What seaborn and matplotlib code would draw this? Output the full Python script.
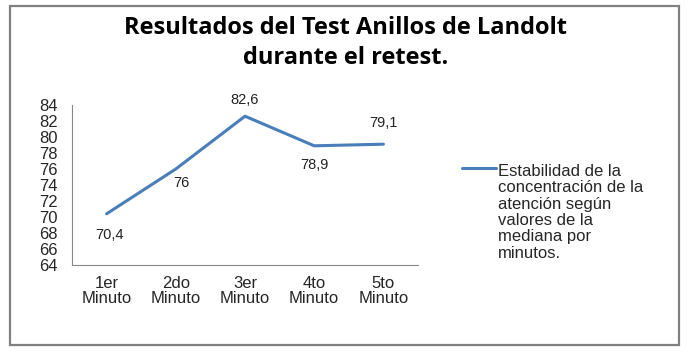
import matplotlib
matplotlib.use("Agg")
import numpy as np
import matplotlib.pyplot as plt
import seaborn as sns
import pandas as pd
from matplotlib.patches import Rectangle
from matplotlib.legend_handler import HandlerLine2D

categories = ["1er\nMinuto", "2do\nMinuto", "3er\nMinuto", "4to\nMinuto", "5to\nMinuto"]
values = [70.4, 76.0, 82.6, 78.9, 79.1]
value_labels = ["70,4", "76", "82,6", "78,9", "79,1"]
series_name = ("Estabilidad de la\nconcentración de la\natención según\n"
               "valores de la\nmediana por\nminutos.")
yticks = list(range(64, 85, 2))

sns.set_style("white")
plt.rcParams["font.family"] = ["Liberation Sans", "DejaVu Sans"]


class TopLineHandler(HandlerLine2D):
    # put the legend line next to the first text line instead of the middle
    def __init__(self, shift, **kw):
        super().__init__(**kw)
        self.shift = shift

    def create_artists(self, *args, **kwargs):
        artists = super().create_artists(*args, **kwargs)
        for a in artists:
            a.set_ydata(np.asarray(a.get_ydata()) + self.shift)
        return artists


df = pd.DataFrame({"x": range(len(categories)), "y": values})

fig = plt.figure(figsize=(6.92, 3.54), dpi=100, facecolor="white")
ax = fig.add_axes([72 / 692, 1 - 265 / 354, (418 - 72) / 692, (265 - 105) / 354])

color = "#4a7ebb"
sns.lineplot(data=df, x="x", y="y", ax=ax, color=color, linewidth=2.2, label=series_name)

# data labels: below or above the point
offsets = [(2, -15), (4, -10), (0, 12), (0, -14), (0, 15)]
for xi, yi, lab, off in zip(df["x"], df["y"], value_labels, offsets):
    ax.annotate(lab, (xi, yi), xytext=off, textcoords="offset points",
                ha="center", va="center", fontsize=10.5, color="#222222")

ax.set_xlim(-0.5, len(categories) - 0.5)
ax.set_ylim(64, 84)
ax.set_yticks(yticks)
ax.set_yticklabels([str(t) for t in yticks], fontsize=12)
ax.set_xticks(range(len(categories)))
ax.set_xticklabels(categories, fontsize=12, linespacing=1.0)
ax.set_xlabel("")
ax.set_ylabel("")

# category boundary ticks on x-axis
ax.set_xticks([i - 0.5 for i in range(len(categories) + 1)], minor=True)
ax.tick_params(axis="x", which="major", length=0, pad=8)
ax.tick_params(axis="x", which="minor", length=4, color="#888888", direction="out")
ax.tick_params(axis="y", length=4, color="#888888", direction="out", pad=6)

for s in ["top", "right"]:
    ax.spines[s].set_visible(False)
for s in ["left", "bottom"]:
    ax.spines[s].set_color("#888888")
    ax.spines[s].set_linewidth(0.8)

handle = ax.get_lines()[0]
leg = ax.legend(handles=[handle], labels=[series_name], loc="upper left",
                bbox_to_anchor=((455 - 72) / (418 - 72), (105 - 157) / 160 + 1),
                frameon=False, fontsize=12, handlelength=2.05, handletextpad=0.12,
                borderaxespad=0, handler_map={handle: TopLineHandler(shift=32)})
for t in leg.get_texts():
    t.set_linespacing(1.12)

fig.text(0.5, 1 - 43 / 354, "Resultados del Test Anillos de Landolt\ndurante el retest.",
         ha="center", va="center", fontsize=17, fontweight="bold", linespacing=1.3,
         color="black", family=["Open Sans", "DejaVu Sans"])

fig.patches.append(Rectangle((10 / 692, 1 - 345 / 354), (679 - 10) / 692, (345 - 6) / 354,
                             transform=fig.transFigure, fill=False,
                             edgecolor="#808080", linewidth=1.6))

fig.savefig("out.png", dpi=100, facecolor="white")
